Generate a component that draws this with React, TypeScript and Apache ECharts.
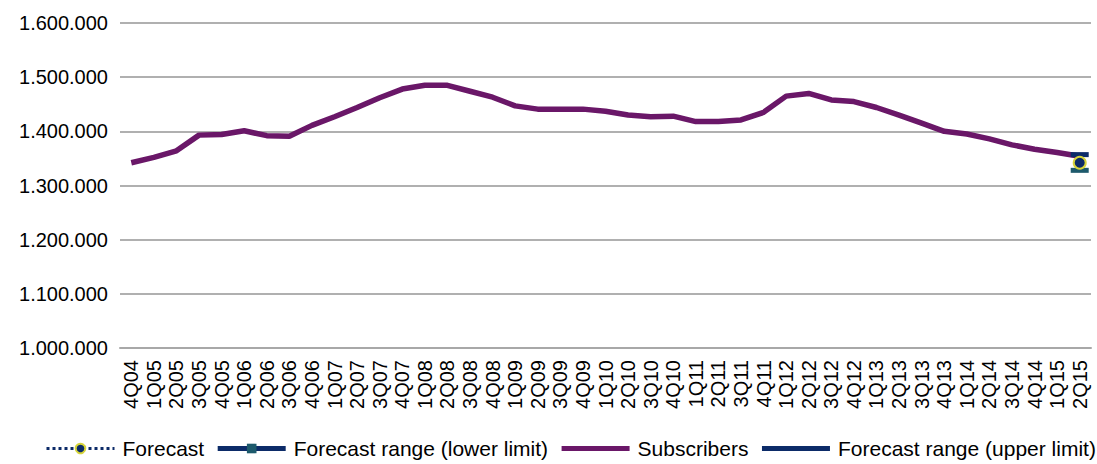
import React, { useEffect, useRef } from "react";
import * as echarts from "echarts";

const categories = [
  "4Q04",
  "1Q05", "2Q05", "3Q05", "4Q05",
  "1Q06", "2Q06", "3Q06", "4Q06",
  "1Q07", "2Q07", "3Q07", "4Q07",
  "1Q08", "2Q08", "3Q08", "4Q08",
  "1Q09", "2Q09", "3Q09", "4Q09",
  "1Q10", "2Q10", "3Q10", "4Q10",
  "1Q11", "2Q11", "3Q11", "4Q11",
  "1Q12", "2Q12", "3Q12", "4Q12",
  "1Q13", "2Q13", "3Q13", "4Q13",
  "1Q14", "2Q14", "3Q14", "4Q14",
  "1Q15", "2Q15",
];

const subscribers = [
  1342000,
  1352000, 1364000, 1393000, 1394000,
  1401000, 1392000, 1391000, 1411000,
  1427000, 1444000, 1462000, 1478000,
  1485000, 1485000, 1474000, 1463000,
  1447000, 1441000, 1441000, 1441000,
  1437000, 1430000, 1427000, 1428000,
  1418000, 1418000, 1421000, 1435000,
  1465000, 1470000, 1458000, 1455000,
  1444000, 1430000, 1415000, 1400000,
  1395000, 1386000, 1375000, 1367000,
  1361000, 1354000,
];

// Forecast for the last quarter and its range
const forecastValue = 1342000;
const forecastLower = 1328000;
const forecastUpper = 1357000;

const yTicks = { min: 1000000, max: 1600000, interval: 100000 };

const PURPLE = "#6a1768";
const NAVY = "#0c2b68";
const TEAL = "#1d5a6c";
const YELLOW = "#d6d43a";

const onlyLast = (v: number) =>
  categories.map((_, i) => (i === categories.length - 1 ? v : null));

const fmt = (v: number) =>
  String(Math.round(v)).replace(/\B(?=(\d{3})+(?!\d))/g, ".");

export default function App() {
  const ref = useRef<HTMLDivElement>(null);

  useEffect(() => {
    if (!ref.current) return;
    const chart = echarts.init(ref.current, undefined, { renderer: "svg" });
    const font = "Liberation Sans, Arial, sans-serif";
    chart.setOption({
      animation: false,
      backgroundColor: "#ffffff",
      textStyle: { fontFamily: font },
      grid: { left: 120, right: 6, top: 23, bottom: 116 },
      legend: {
        left: 45,
        width: 1052,
        top: 438,
        padding: 0,
        itemWidth: 68,
        itemHeight: 12,
        itemGap: 11,
        lineStyle: { width: 5 },
        textStyle: { fontSize: 21, color: "#000", fontFamily: font, padding: [0, 0, 0, 3] },
        data: [
          { name: "Forecast", lineStyle: { width: 3, type: "dotted" } },
          { name: "Forecast range (lower limit)", itemStyle: { opacity: 1 } },
          { name: "Subscribers", itemStyle: { opacity: 0 } },
          { name: "Forecast range (upper limit)", itemStyle: { opacity: 0 } },
        ],
      },
      xAxis: {
        type: "category",
        data: categories,
        boundaryGap: true,
        axisLine: { lineStyle: { color: "#a8a8a8", width: 2 } },
        axisTick: { show: false },
        axisLabel: {
          rotate: 90,
          interval: 0,
          margin: 12,
          fontSize: 20,
          color: "#000",
          fontFamily: font,
        },
      },
      yAxis: {
        type: "value",
        min: yTicks.min,
        max: yTicks.max,
        interval: yTicks.interval,
        axisLine: { show: false },
        axisTick: { show: false },
        splitLine: { lineStyle: { color: "#b0b0b0", width: 2 } },
        axisLabel: {
          fontSize: 20,
          color: "#000",
          margin: 12,
          fontFamily: font,
          formatter: (v: number) => fmt(v),
        },
      },
      series: [
        {
          name: "Subscribers",
          type: "line",
          data: subscribers,
          symbol: "none",
          lineStyle: { color: PURPLE, width: 5.5 },
          itemStyle: { color: PURPLE },
          z: 2,
        },
        {
          name: "Forecast range (lower limit)",
          type: "line",
          data: onlyLast(forecastLower),
          symbol: "rect",
          symbolSize: [18, 5],
          lineStyle: { color: NAVY, width: 5 },
          itemStyle: { color: TEAL },
          z: 3,
        },
        {
          name: "Forecast range (upper limit)",
          type: "line",
          data: onlyLast(forecastUpper),
          symbol: "rect",
          symbolSize: [18, 5],
          lineStyle: { color: NAVY, width: 5 },
          itemStyle: { color: NAVY },
          z: 3,
        },
        {
          name: "Forecast",
          type: "line",
          data: onlyLast(forecastValue),
          symbol: "circle",
          symbolSize: 12,
          lineStyle: { color: NAVY, width: 3, type: "dotted" },
          itemStyle: { color: NAVY, borderColor: YELLOW, borderWidth: 2 },
          z: 4,
        },
      ],
    });
    return () => chart.dispose();
  }, []);

  return (
    <div
      ref={ref}
      style={{ position: "fixed", left: 0, top: 0, width: 1097, height: 464 }}
    />
  );
}
